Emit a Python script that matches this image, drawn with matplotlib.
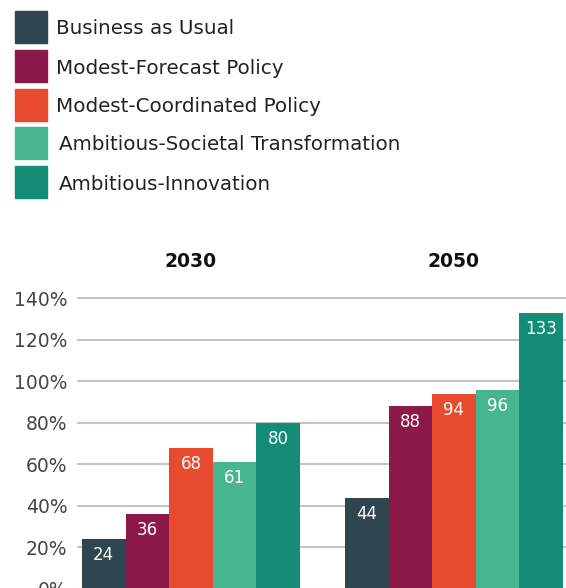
import matplotlib
matplotlib.use("Agg")
import matplotlib.pyplot as plt
from matplotlib.patches import Rectangle
import numpy as np

# data
years = ["2030", "2050"]
scenarios = ["Business as Usual", "Modest-Forecast Policy", "Modest-Coordinated Policy",
             "Ambitious-Societal Transformation", "Ambitious-Innovation"]
colors = ["#2f4550", "#8b1a4a", "#e84a2f", "#47b58f", "#138d75"]
vals_2030 = [24, 36, 68, 61, 80]
vals_2050 = [44, 88, 94, 96, 133]
yticks = [0, 20, 40, 60, 80, 100, 120, 140]

plt.rcParams['font.family'] = ['DejaVu Sans']
fig = plt.figure(figsize=(5.66, 5.88), dpi=100)
ax = fig.add_axes([0.136, -0.0017, 0.864, 0.512])

group_gap = 6.03
for g, vals in enumerate([vals_2030, vals_2050]):
    for i, v in enumerate(vals):
        x = g * group_gap + i
        ax.bar(x, v, width=1.0, color=colors[i], zorder=3)
        ax.annotate(str(v), (x, v), xytext=(0, -11.5), textcoords="offset points",
                    ha="center", va="center", color="white", fontsize=12, zorder=4)
    ax.text(g * group_gap + 2, 157.6, years[g], ha="center", va="center",
            fontsize=13.5, fontweight="bold", color="#111111", clip_on=False)

ax.set_xlim(-0.615, 10.6)
ax.set_ylim(0, 145)
ax.set_yticks(yticks)
ax.set_yticklabels([f"{t}%" for t in yticks])
ax.tick_params(axis="y", length=0, pad=7, labelsize=13.5, labelcolor="#454545")
ax.set_xticks([])
ax.grid(axis="y", color="#c4c4c4", linewidth=1.5, zorder=0)
for s in ax.spines.values():
    s.set_visible(False)

# legend drawn by hand at the top
W, H = 566, 588
rows_y = [11, 50, 89, 127, 166]
text_x = [56, 56, 56, 59, 59]
for i, name in enumerate(scenarios):
    y0 = rows_y[i]
    fig.patches.append(Rectangle((15 / W, 1 - (y0 + 32) / H), 32 / W, 32 / H,
                                 transform=fig.transFigure, color=colors[i]))
    fig.text(text_x[i] / W, 1 - (y0 + 18) / H, name, ha="left", va="center",
             fontsize=14.3, color="#222222")

fig.savefig("out.png", dpi=100)
